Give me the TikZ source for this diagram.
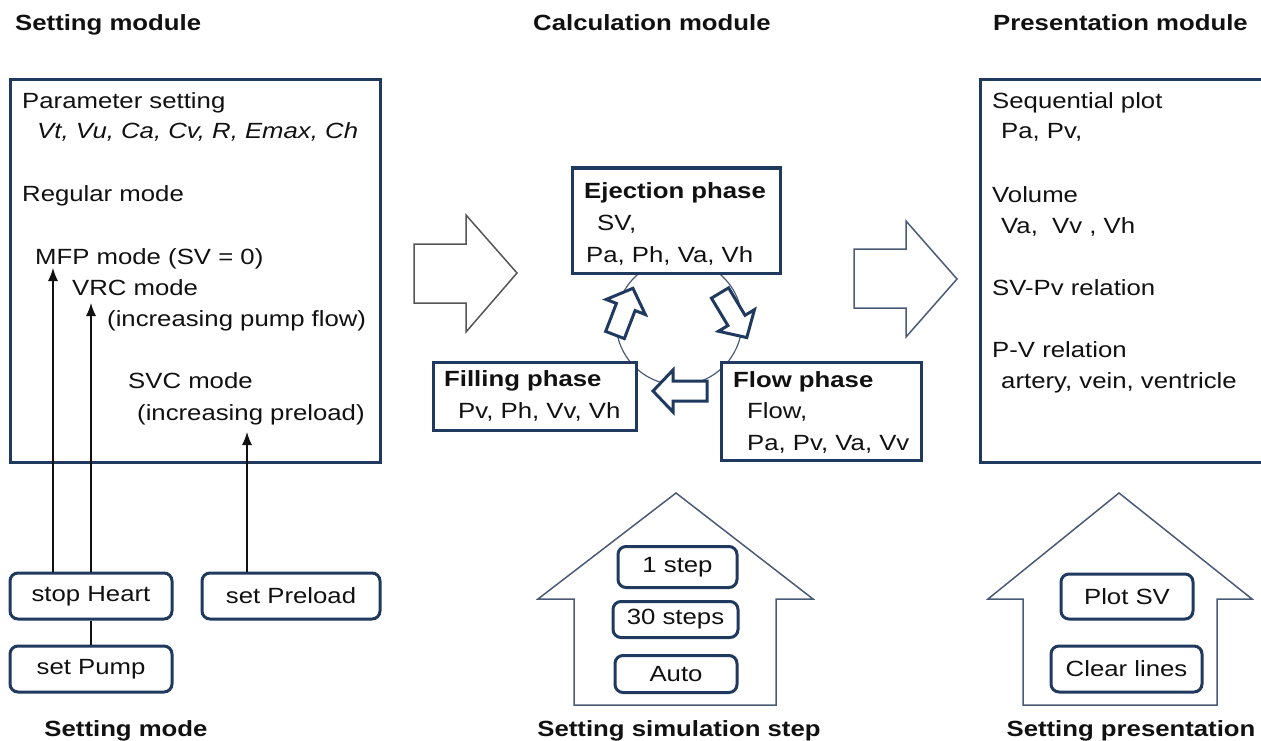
\documentclass[tikz,border=0pt]{standalone}
\usepackage{fontspec}
\setmainfont{Liberation Sans}[FakeStretch=1.17]
\usetikzlibrary{arrows.meta}
\definecolor{navy}{HTML}{1F3A5E}
\definecolor{slate}{HTML}{4A5B78}
\definecolor{ink}{HTML}{111111}
\definecolor{grayarrow}{HTML}{555555}
\tikzset{
  txt/.style={anchor=base west, inner sep=0pt, text=ink, font=\fontsize{22}{26}\selectfont},
  ttl/.style={anchor=base west, inner sep=0pt, text=ink, font=\fontsize{22}{26}\selectfont\bfseries},
  bigbox/.style={draw=navy, line width=3pt, fill=white, rectangle, inner sep=0pt},
  btn/.style={draw=navy, line width=3pt, fill=white, rounded corners=8pt, inner sep=0pt, text=ink, font=\fontsize{22}{26}\selectfont},
  conn/.style={line width=1.2pt, draw=ink},
  connarr/.style={conn, -{Latex[length=13pt,width=10pt]}},
  smallarrow/.style={draw=navy, line width=3pt, fill=white, line join=miter},
  house/.style={draw=slate, line width=1.5pt},
  circ/.style={draw=slate, line width=1.2pt},
}
\newcommand\blockarrow[4]{%
  \draw[smallarrow, shift={(#1,#2)}, rotate=#3]
    (0,-10) -- ({#4-20},-10) -- ({#4-20},-21) -- (#4,0) -- ({#4-20},21) -- ({#4-20},10) -- (0,10) -- cycle;}
\begin{document}
\begin{tikzpicture}[x=1pt,y=-1pt]
\useasboundingbox (0,0) rectangle (1261,741);

% titles
\node[ttl] (t1) at (15,31) {Setting module};
\node[ttl] (t2) at (533,31) {Calculation module};
\node[ttl] (t3) at (993,31) {Presentation module};

% left box
\node[bigbox, minimum width=370pt, minimum height=382pt] (setbox) at (195,271) {};
\node[txt] (ps) at (22,109) {Parameter setting};
\node[txt] (pl) at (37,139) {\itshape Vt, Vu, Ca, Cv, R, Emax, Ch};
\node[txt] (rm) at (22,201) {Regular mode};
\node[txt] (mfp) at (35,264) {MFP mode (SV = 0)};
\node[txt] (vrc) at (72,295) {VRC mode};
\node[txt] (ipf) at (107,326) {(increasing pump flow)};
\node[txt] (svc) at (128,388) {SVC mode};
\node[txt] (ipl) at (137,420) {(increasing preload)};

% buttons left
\node[btn, minimum width=162pt, minimum height=46pt] (sh) at (91,596) {stop Heart};
\node[btn, minimum width=178pt, minimum height=46pt] (sp) at (291,596) {set Preload};
\node[btn, minimum width=162pt, minimum height=46pt] (pump) at (91,669) {set Pump};
\node[ttl, anchor=base] (sm) at (126,736) {Setting mode};

\coordinate (tipA) at (53,268);
\coordinate (tipB) at (91,303);
\coordinate (tipC) at (247,432);
\draw[connarr] (sh.north -| tipA) -- (tipA);
\draw[connarr] (sh.north) -- (tipB);
\draw[connarr] (sp.north -| tipC) -- (tipC);
\draw[conn] (pump.north) -- (sh.south);

% big arrows
\draw[draw=grayarrow, line width=1.5pt, line join=miter] (414,244) -- (466,244) -- (466,215) -- (517,273) -- (466,332) -- (466,303) -- (414,303) -- cycle;
\draw[draw=slate, line width=1.5pt, line join=miter] (854,249) -- (906,249) -- (906,221) -- (957,279) -- (906,337) -- (906,308) -- (854,308) -- cycle;

% cycle
\draw[circ] (679,322) circle (63pt);
\node[bigbox, minimum width=208pt, minimum height=105pt] (ej) at (676,220.5) {};
\node[ttl] (ejt) at (584,198) {Ejection phase};
\node[txt] (ej1) at (597,230) {SV,};
\node[txt] (ej2) at (586,262) {Pa, Ph, Va, Vh};

\node[bigbox, minimum width=203pt, minimum height=68pt] (fi) at (534.5,396) {};
\node[ttl] (fit) at (444,386) {Filling phase};
\node[txt] (fi1) at (458,418) {Pv, Ph, Vv, Vh};

\node[bigbox, minimum width=200pt, minimum height=98pt] (fl) at (821,411) {};
\node[ttl] (flt) at (733,387) {Flow phase};
\node[txt] (fl1) at (747,418) {Flow,};
\node[txt] (fl2) at (747,450) {Pa, Pv, Va, Vv};

\blockarrow{615}{335}{69}{50}
\blockarrow{720}{293}{-59}{52}
\blockarrow{707}{391}{180}{54}

% middle house
\draw[house] (676,493) -- (813,599) -- (776,599) -- (776,705) -- (574,705) -- (574,599) -- (538,599) -- cycle;
\node[btn, minimum width=119pt, minimum height=41pt] (s1) at (677.5,567) {1 step};
\node[btn, minimum width=125pt, minimum height=36pt] (s30) at (675.5,619.5) {30 steps};
\node[btn, minimum width=122pt, minimum height=37pt] (sa) at (676,674) {Auto};
\node[ttl, anchor=base] (sss) at (679,736) {Setting simulation step};

% right box
\node[bigbox, minimum width=300pt, minimum height=382pt] (prbox) at (1130,271) {};
\node[txt] (sq) at (992,109) {Sequential plot};
\node[txt] (sq1) at (1001,139) {Pa, Pv,};
\node[txt] (vo) at (992,202) {Volume};
\node[txt] (vo1) at (1001,233) {Va,\ \ Vv\ , Vh};
\node[txt] (svpv) at (992,295) {SV-Pv relation};
\node[txt] (pv) at (992,357) {P-V relation};
\node[txt] (pv1) at (1001,388) {artery, vein, ventricle};

% right house
\draw[house] (1119,493) -- (1252,599) -- (1217,599) -- (1217,705) -- (1023,705) -- (1023,599) -- (988,599) -- cycle;
\node[btn, minimum width=132pt, minimum height=45pt] (plot) at (1127,596.5) {Plot SV};
\node[btn, minimum width=151pt, minimum height=46pt] (clear) at (1126.5,669) {Clear lines};
\node[ttl, anchor=base] (spr) at (1131,736) {Setting presentation};
\end{tikzpicture}
\end{document}
